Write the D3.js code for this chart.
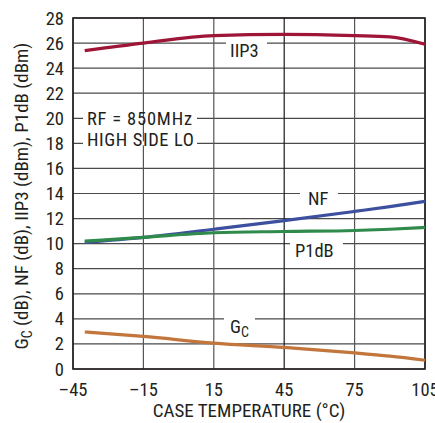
<!DOCTYPE html>
<html lang="en">
<head>
<meta charset="UTF-8">
<title>Conversion gain, NF, IIP3, P1dB vs case temperature</title>
<script src="https://cdn.jsdelivr.net/npm/d3@7"></script>
<style>
  body { margin: 0; background: #fff; }
  svg text { font-family: "Liberation Sans Narrow", "Roboto Condensed", "DejaVu Sans Condensed", sans-serif; fill: #231f20; }
</style>
</head>
<body>
<svg id="chart" width="435" height="423"></svg>
<script>
// temperatures (°C) where values were read
const temps = [-40, -15, 15, 45, 75, 90, 105];
const iip3 = [25.4, 26.0, 26.6, 26.7, 26.6, 26.5, 25.9];
const nf   = [10.1, 10.5, 11.15, 11.83, 12.57, 12.95, 13.37];
const p1db = [10.2, 10.5, 10.87, 10.97, 11.05, 11.15, 11.3];
const gc   = [2.95, 2.6, 2.07, 1.72, 1.28, 1.02, 0.7];
const xTicks = [-45, -15, 15, 45, 75, 105];
const yTicks = d3.range(0, 29, 2);

const svg = d3.select('#chart');
const pLeft = 73, pRight = 425, pTop = 18, pBottom = 369;

const x = d3.scaleLinear().domain([-45, 105]).range([pLeft, pRight]);
const y = d3.scaleLinear().domain([0, 28]).range([pBottom, pTop]);

// grid
const grid = svg.append('g');
grid.selectAll('line.h').data(yTicks).enter().append('line')
  .attr('x1', pLeft).attr('x2', pRight)
  .attr('y1', d => y(d)).attr('y2', d => y(d))
  .attr('stroke', '#4a4a4a').attr('stroke-width', 1.2);
grid.selectAll('line.v').data(xTicks).enter().append('line')
  .attr('x1', d => x(d)).attr('x2', d => x(d))
  .attr('y1', pTop).attr('y2', pBottom)
  .attr('stroke', d => d === 45 ? '#1a1a1a' : '#555').attr('stroke-width', 1.2);
svg.append('rect').attr('x', pLeft).attr('y', pTop)
  .attr('width', pRight - pLeft).attr('height', pBottom - pTop)
  .attr('fill', 'none').attr('stroke', '#231f20').attr('stroke-width', 1.6);

// tick labels
svg.append('g').selectAll('text').data(yTicks).enter().append('text')
  .attr('x', pLeft - 9).attr('y', d => y(d) + 6.5)
  .attr('text-anchor', 'end').attr('font-size', 18.5)
  .text(d => d);
svg.append('g').selectAll('text').data(xTicks).enter().append('text')
  .attr('x', d => x(d)).attr('y', pBottom + 27)
  .attr('text-anchor', 'middle').attr('font-size', 18.5)
  .text(d => d < 0 ? '\u2013' + Math.abs(d) : d);

// axis titles
svg.append('text').attr('x', 249).attr('y', 417)
  .attr('text-anchor', 'middle').attr('font-size', 19)
  .text('CASE TEMPERATURE (\u00B0C)');
const yt = svg.append('text')
  .attr('transform', 'translate(28,196) rotate(-90)')
  .attr('text-anchor', 'middle').attr('font-size', 19);
yt.append('tspan').text('G');
yt.append('tspan').attr('font-size', 14).attr('dy', 4).text('C');
yt.append('tspan').attr('dy', -4).text(' (dB), NF (dB), IIP3 (dBm), P1dB (dBm)');

// labels with a white gap cut into the gridline they sit on
function label(txt, tx, base, gx0, gx1, gy, opts) {
  opts = opts || {};
  svg.append('rect').attr('x', gx0).attr('y', gy - 2)
    .attr('width', gx1 - gx0).attr('height', 4).attr('fill', '#fff');
  const t = svg.append('text').attr('x', tx).attr('y', base)
    .attr('font-size', 18.5)
    .attr('letter-spacing', opts.ls || 0);
  t.append('tspan').text(txt);
  if (opts.sub) t.append('tspan').attr('font-size', 14).attr('dy', 4).text(opts.sub);
}
label('IIP3', 230, 57, 226, 267, y(26));
label('RF = 850MHz', 87, 125, 83, 197, y(20), { ls: 0.8 });
label('HIGH SIDE LO', 87, 146, 83, 197, y(18), { ls: 0.6 });
label('NF', 308, 205, 300, 338, y(14));
label('P1dB', 295, 257, 290, 343, y(10));
label('G', 230, 333, 224, 255, y(4), { sub: 'C' });

// series
const series = [
  { vals: iip3, color: '#9e1537' },
  { vals: nf, color: '#3d4f9f' },
  { vals: p1db, color: '#2f8a4c' },
  { vals: gc, color: '#c2763b' }
];
const line = d3.line().x(d => x(d[0])).y(d => y(d[1])).curve(d3.curveMonotoneX);
series.forEach(s => {
  svg.append('path').datum(temps.map((t, i) => [t, s.vals[i]]))
    .attr('d', line).attr('fill', 'none')
    .attr('stroke', s.color).attr('stroke-width', 3.2);
});
</script>
</body>
</html>
